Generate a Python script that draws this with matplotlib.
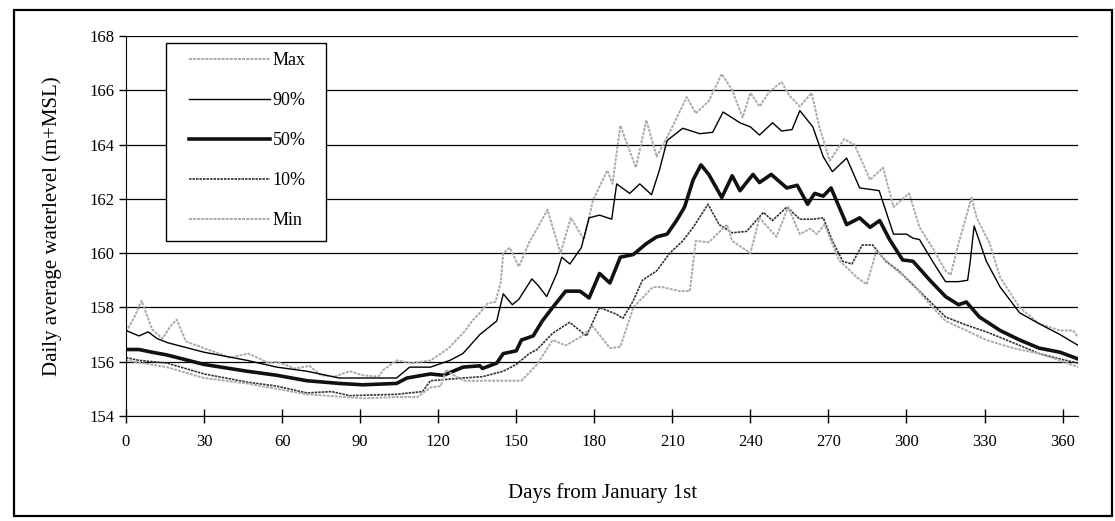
import matplotlib
matplotlib.use("Agg")
import matplotlib.pyplot as plt
from matplotlib.patches import Rectangle

plt.rcParams['font.family'] = ['Liberation Serif', 'DejaVu Serif']

# daily water level envelopes (m+MSL), day of year -> level
max_days = [0, 3, 6, 10, 14, 17, 19.5, 23, 30, 40, 47, 55, 58, 65, 70.5, 75, 80, 86, 91, 97, 99, 104, 110,
            117, 121, 124, 127, 130, 133, 136, 139, 142, 144, 145, 147.5, 151, 155, 158, 162, 167, 171, 176,
            179.5, 185, 187, 190, 196, 200, 204, 210, 215.5, 219, 224, 229, 233, 237, 240, 243.5, 247, 250.5,
            252, 255, 259, 263.5, 266.5, 270.5, 276, 280, 286, 291, 295, 301, 305, 310, 315, 317, 320, 325,
            327, 332, 336, 343.5, 351, 359, 364, 366]
max_vals = [157.1, 157.6, 158.25, 157.2, 156.85, 157.3, 157.55, 156.75, 156.5, 156.15, 156.3, 155.95, 156.0,
            155.75, 155.85, 155.5, 155.45, 155.65, 155.5, 155.45, 155.7, 156.05, 155.95, 156.05, 156.3, 156.5,
            156.8, 157.1, 157.5, 157.8, 158.15, 158.2, 158.9, 160.0, 160.2, 159.5, 160.4, 160.9, 161.6, 160.0,
            161.3, 160.5, 161.95, 163.05, 162.55, 164.7, 163.15, 164.9, 163.55, 164.65, 165.75, 165.15, 165.6,
            166.6, 166.0, 165.0, 165.9, 165.4, 165.9, 166.2, 166.3, 165.8, 165.4, 165.9, 164.65, 163.4, 164.2,
            164.0, 162.7, 163.15, 161.7, 162.2, 160.95, 160.2, 159.35, 159.2, 160.35, 162.05, 161.3, 160.35,
            159.1, 158.0, 157.4, 157.15, 157.15, 156.9]

p90_days = [0, 5, 8.5, 12, 16, 30, 46.5, 58, 69.5, 82, 91, 104, 109, 117, 124.5, 129.5, 136, 142.5, 145, 148.5,
            151, 156, 158.5, 161.7, 165.6, 167.5, 170.6, 175, 178, 182, 186.7, 188.6, 193.6, 197.5, 202, 205,
            208, 214, 220.5, 225.5, 229.5, 236, 240, 243.5, 248.5, 252, 256, 259, 264, 268, 271.5, 277, 282,
            286, 289.5, 295, 300, 302.5, 305, 310, 315, 320, 323.5, 324.5, 326, 330.7, 336, 343.5, 351, 359, 366]
p90_vals = [157.15, 156.95, 157.1, 156.85, 156.7, 156.35, 156.05, 155.8, 155.65, 155.4, 155.4, 155.4, 155.8,
            155.8, 156.05, 156.3, 157.0, 157.5, 158.5, 158.1, 158.3, 159.05, 158.8, 158.4, 159.25, 159.85,
            159.6, 160.2, 161.3, 161.4, 161.25, 162.55, 162.2, 162.55, 162.15, 163.05, 164.15, 164.6, 164.4,
            164.45, 165.2, 164.8, 164.65, 164.35, 164.8, 164.5, 164.55, 165.25, 164.65, 163.55, 163.0, 163.5,
            162.4, 162.35, 162.3, 160.7, 160.7, 160.55, 160.5, 159.7, 158.95, 158.95, 159.0, 159.7, 161.0,
            159.7, 158.75, 157.8, 157.4, 157.0, 156.6]

p50_days = [0, 5, 10, 15.7, 30, 46.5, 58, 69.5, 82, 91, 104, 108, 117, 122, 129.5, 136, 137, 142.5, 145, 150,
            152, 156.5, 160, 164, 169, 174.5, 178, 182, 186, 190, 195, 200, 204, 208, 211.6, 214.7, 218, 221,
            224, 229, 233, 236, 241, 243.5, 248, 254, 258, 262, 264.7, 268, 271, 277, 282, 286, 289.7, 293.5,
            298.5, 302.5, 309, 315, 320, 323, 328, 336, 343.5, 351, 359, 366]
p50_vals = [156.45, 156.45, 156.35, 156.25, 155.9, 155.65, 155.5, 155.3, 155.2, 155.15, 155.2, 155.4, 155.55,
            155.5, 155.8, 155.85, 155.75, 155.95, 156.3, 156.4, 156.8, 156.95, 157.5, 158.0, 158.6, 158.6,
            158.35, 159.25, 158.9, 159.85, 159.95, 160.35, 160.6, 160.7, 161.2, 161.7, 162.7, 163.25, 162.9,
            162.05, 162.85, 162.3, 162.9, 162.6, 162.9, 162.4, 162.5, 161.8, 162.2, 162.1, 162.4, 161.05,
            161.3, 160.95, 161.2, 160.5, 159.75, 159.7, 159.0, 158.4, 158.1, 158.2, 157.65, 157.15, 156.8,
            156.5, 156.35, 156.1]

p10_days = [0, 5, 15.7, 30, 46.5, 58, 69.5, 79, 86, 104, 114, 117, 129.5, 137, 145, 150, 155, 158, 164, 170.5,
            177, 182, 188.5, 191, 195, 198.5, 204, 209, 214, 218, 223.7, 228, 233, 238.5, 245, 248.5, 254, 259,
            264, 268, 271.5, 275.5, 279, 283, 287, 292, 297, 305, 315, 323, 330.7, 341, 351, 359, 366]
p10_vals = [156.15, 156.05, 155.95, 155.55, 155.25, 155.1, 154.85, 154.9, 154.75, 154.8, 154.9, 155.3, 155.4,
            155.45, 155.65, 155.9, 156.3, 156.45, 157.05, 157.45, 156.95, 158.0, 157.75, 157.6, 158.25, 159.0,
            159.35, 160.0, 160.45, 160.95, 161.8, 161.05, 160.75, 160.8, 161.5, 161.2, 161.7, 161.25, 161.25,
            161.3, 160.45, 159.7, 159.6, 160.3, 160.3, 159.7, 159.35, 158.6, 157.65, 157.35, 157.1, 156.7,
            156.3, 156.1, 155.95]

min_days = [0, 15.7, 30, 46.5, 58, 69.5, 77, 91, 104, 112, 117, 121, 123, 126, 130, 142, 152, 158, 164, 169,
            174.5, 179.5, 186, 190, 195, 202.5, 206, 213, 216.7, 219, 224, 231, 233, 240, 243.5, 250, 254.5,
            259, 263, 265.5, 268.5, 274, 281, 284.7, 288.5, 293.5, 302.5, 310, 315, 323, 330.7, 341, 351, 359, 366]
min_vals = [156.05, 155.8, 155.4, 155.2, 155.0, 154.8, 154.75, 154.65, 154.7, 154.7, 155.05, 155.1, 155.7,
            155.5, 155.3, 155.3, 155.3, 155.9, 156.8, 156.6, 156.9, 157.3, 156.5, 156.55, 158.0, 158.75, 158.75,
            158.6, 158.6, 160.45, 160.4, 161.05, 160.45, 160.0, 161.3, 160.6, 161.7, 160.7, 160.9, 160.7,
            161.05, 159.75, 159.1, 158.85, 160.1, 159.6, 158.85, 158.0, 157.5, 157.15, 156.8, 156.5, 156.3,
            156.05, 155.8]

fig = plt.figure(figsize=(11.15, 5.21), dpi=100)
ax = fig.add_axes([0.113, 0.2015, 0.854, 0.7295])

ax.plot(max_days, max_vals, color="#aaaaaa", lw=1.4, ls=(0, (1.5, 0.6)), label="Max")
ax.plot(p90_days, p90_vals, color="black", lw=1.0, label="90%")
ax.plot(p50_days, p50_vals, color="#111111", lw=2.6, label="50%")
ax.plot(p10_days, p10_vals, color="#333333", lw=1.2, ls=(0, (1.5, 0.6)), label="10%")
ax.plot(min_days, min_vals, color="#aaaaaa", lw=1.4, ls=(0, (1.5, 0.6)), label="Min")

ax.set_xlim(0, 366)
ax.set_ylim(154, 168)
ax.set_xticks(range(0, 361, 30))
ax.set_yticks(range(154, 169, 2))
ax.yaxis.grid(True, color="black", lw=0.9)
ax.set_axisbelow(True)
ax.spines["top"].set_visible(False)
ax.spines["right"].set_visible(False)
ax.tick_params(axis="x", direction="inout", length=10, width=1, pad=8, labelsize=12)
ax.tick_params(axis="y", direction="out", length=5, width=1, pad=3, labelsize=12)

ax.set_xlabel("Days from January 1st", fontsize=15, labelpad=24)
ax.set_ylabel("Daily average waterlevel (m+MSL)", fontsize=15, labelpad=20)

# legend entries without frame, box drawn separately so the padding can differ per side
leg = ax.legend(loc="upper left", bbox_to_anchor=(0.066, 0.958), borderaxespad=0, frameon=False,
                fontsize=13, handlelength=4.5, handletextpad=0.15, labelspacing=1.28, borderpad=0)
box = Rectangle((0.042, 0.4605), 0.168, 0.521, transform=ax.transAxes,
                facecolor="white", edgecolor="black", lw=1.0, zorder=4)
ax.add_patch(box)
leg.set_zorder(5)

# outer border round the whole figure
fig.patches.append(Rectangle((0.0125, 0.01), 0.985, 0.97, transform=fig.transFigure,
                             fill=False, edgecolor="black", lw=1.6))

fig.savefig("out.png", dpi=100)
